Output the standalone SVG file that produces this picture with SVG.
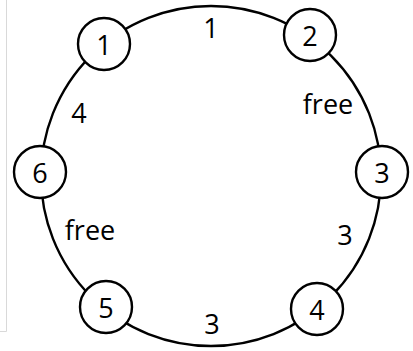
<svg xmlns="http://www.w3.org/2000/svg" width="413" height="351" viewBox="0 0 413 351">
<style>
.ring{fill:none;stroke:#000;stroke-width:2.4}
.node circle{fill:#fff;stroke:#000;stroke-width:2.4}
text{font-family:"Open Sans","Noto Sans",sans-serif;font-size:27px;font-weight:500;fill:#000;text-anchor:middle}
.node text{dominant-baseline:central}
</style>
<rect width="413" height="351" fill="#fff"/>
<path d="M6.5,0 V331.5 H0" fill="none" stroke="#d9d9d9" stroke-width="1"/>
<g id="connectors">
<circle class="ring" cx="211" cy="176" r="170"/>
</g>
<g id="edge-labels">
<text x="211" y="38">1</text>
<text x="328" y="114">free</text>
<text x="79" y="123">4</text>
<text x="90" y="240">free</text>
<text x="345" y="245">3</text>
<text x="212" y="334">3</text>
</g>
<g id="n1" class="node"><circle cx="104" cy="44" r="26"/><text x="104" y="44">1</text></g>
<g id="n2" class="node"><circle cx="310" cy="35" r="26"/><text x="310" y="35">2</text></g>
<g id="n3" class="node"><circle cx="382" cy="172" r="26"/><text x="382" y="172">3</text></g>
<g id="n4" class="node"><circle cx="317" cy="309" r="26"/><text x="317" y="309">4</text></g>
<g id="n5" class="node"><circle cx="106" cy="307" r="26"/><text x="106" y="307">5</text></g>
<g id="n6" class="node"><circle cx="40" cy="172" r="26"/><text x="40" y="172">6</text></g>
</svg>
